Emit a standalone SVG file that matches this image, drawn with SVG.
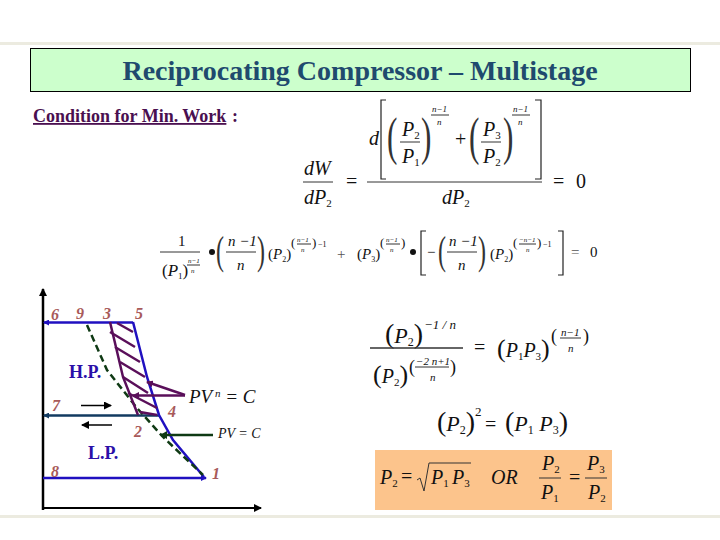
<svg xmlns="http://www.w3.org/2000/svg" width="720" height="540" viewBox="0 0 720 540">
<defs>
<style>
text{font-family:"Liberation Serif","Times New Roman",serif;fill:#111}
.i{font-style:italic}
.n{font-style:italic;font-weight:bold;font-size:16px;fill:#a85a5a}
.lb{font-weight:bold;font-size:18px;fill:#2a10a8}
.fr{stroke:#333;stroke-width:1;fill:none}
.br{stroke:#222;stroke-width:1.2;fill:none}
.m{font-size:20px}
.m2{font-size:15px}
.l{fill:none;stroke-linecap:butt}
.t7{font-size:7px;font-style:italic}
.t9{font-size:9px;font-style:italic}
.t11{font-size:11px;font-style:italic}
.p{fill:#333}
</style>
<marker id="ab" markerWidth="6" markerHeight="6" refX="5" refY="3" orient="auto-start-reverse" markerUnits="userSpaceOnUse"><path d="M0 0L6 3L0 6Z" fill="#2010c0"/></marker>
<marker id="ak" markerWidth="8" markerHeight="8" refX="7" refY="4" orient="auto" markerUnits="userSpaceOnUse"><path d="M0 0L8 4L0 8Z" fill="#000"/></marker>
<marker id="an" markerWidth="6" markerHeight="6" refX="5" refY="3" orient="auto" markerUnits="userSpaceOnUse"><path d="M0 0L6 3L0 6Z" fill="#123a60"/></marker>
<marker id="ap" markerWidth="7" markerHeight="7" refX="6" refY="3.5" orient="auto" markerUnits="userSpaceOnUse"><path d="M0 0L7 3.500L0 7Z" fill="#5a0f5a"/></marker>
<marker id="ag" markerWidth="7" markerHeight="8" refX="6" refY="4" orient="auto" markerUnits="userSpaceOnUse"><path d="M0 0L7 4L0 8Z" fill="#0f3a14"/></marker>
</defs>
<rect width="720" height="540" fill="#fff"/>
<rect x="0" y="42" width="720" height="3" fill="#ecebe0"/>
<rect x="0" y="515" width="720" height="3" fill="#ecebe0"/>
<g id="title">
<rect x="30.500" y="48.500" width="660" height="43" fill="#ccffcc" stroke="#000" stroke-width="1"/>
<text x="360" y="80" text-anchor="middle" font-size="28" font-weight="bold" style="fill:#1f4a6e">Reciprocating Compressor – Multistage</text>
</g>
<g id="condition">
<text x="33" y="122" font-size="18" font-weight="bold" text-decoration="underline" style="fill:#4a0f50">Condition for Min. Work</text>
<text x="232" y="122" font-size="18" font-weight="bold" style="fill:#4a0f50">:</text>
</g>
<g id="eq1">
<text class="m" x="304" y="175"><tspan class="i">dW</tspan></text><line class="fr" x1="303" y1="182" x2="333" y2="182"/>
<text class="m" x="304" y="204"><tspan class="i">dP</tspan><tspan font-size="11" dy="3">2</tspan></text>
<text class="m" x="346" y="188">=</text>
<line class="fr" x1="367" y1="182" x2="542" y2="182"/>
<text class="i m" x="369" y="145">d</text>
<path class="br" d="M386 179H381V100H386M535 100H541V179H535"/>
<text class="p" transform="translate(387 154) scale(.6 1)" font-size="52">(</text>
<text class="m" x="402" y="136"><tspan class="i">P</tspan><tspan font-size="11" dy="3">2</tspan></text>
<line class="fr" x1="400" y1="142" x2="420" y2="142"/>
<text class="m" x="402" y="163"><tspan class="i">P</tspan><tspan font-size="11" dy="3">1</tspan></text>
<text class="p" transform="translate(421 154) scale(.6 1)" font-size="52">)</text>
<text class="t9" x="432" y="112">n−1</text><line class="fr" x1="431" y1="115" x2="449" y2="115"/><text class="t9" x="437" y="125">n</text>
<text class="m" x="455" y="146">+</text>
<text class="p" transform="translate(469 154) scale(.6 1)" font-size="52">(</text>
<text class="m" x="483" y="136"><tspan class="i">P</tspan><tspan font-size="11" dy="3">3</tspan></text>
<line class="fr" x1="481" y1="142" x2="501" y2="142"/>
<text class="m" x="483" y="163"><tspan class="i">P</tspan><tspan font-size="11" dy="3">2</tspan></text>
<text class="p" transform="translate(503 154) scale(.6 1)" font-size="52">)</text>
<text class="t9" x="513" y="112">n−1</text><line class="fr" x1="512" y1="115" x2="530" y2="115"/><text class="t9" x="518" y="125">n</text>
<text class="m" x="442" y="204"><tspan class="i">dP</tspan><tspan font-size="11" dy="3">2</tspan></text>
<text class="m" x="553" y="188">=</text><text class="m" x="576" y="188">0</text>
</g>
<g id="eq2">
<text class="m2" x="178" y="246">1</text><line class="fr" x1="160" y1="252" x2="200" y2="252"/>
<text x="162" y="276" font-size="17">(<tspan class="i">P</tspan><tspan font-size="9" dy="3">1</tspan><tspan dy="-3">)</tspan></text>
<text class="t7" x="188" y="263">n−1</text><line class="fr" x1="187" y1="265" x2="200" y2="265"/><text class="t7" x="191" y="273">n</text>
<circle cx="212" cy="252" r="3" fill="#111"/>
<text class="p" transform="translate(216 264) scale(.6 1)" font-size="40">(</text>
<text class="i m2" x="228" y="246">n −1</text><line class="fr" x1="226" y1="252" x2="256" y2="252"/><text class="i m2" x="237" y="270">n</text>
<text class="p" transform="translate(257 264) scale(.6 1)" font-size="40">)</text>
<text x="268" y="259" font-size="15">(<tspan class="i">P</tspan><tspan font-size="8" dy="3">2</tspan><tspan dy="-3">)</tspan></text>
<text x="291" y="247" font-size="13">(</text><text class="t7" x="297" y="242">n−1</text><line class="fr" x1="297" y1="244" x2="311" y2="244"/><text class="t7" x="301" y="252">n</text><text x="312" y="247" font-size="13">)</text><text x="318" y="247" font-size="8">−1</text>
<text class="m2" x="337" y="259" style="fill:#555">+</text>
<text x="357" y="259" font-size="15">(<tspan class="i">P</tspan><tspan font-size="8" dy="3">3</tspan><tspan dy="-3">)</tspan></text>
<text x="380" y="247" font-size="13">(</text><text class="t7" x="386" y="242">n−1</text><line class="fr" x1="386" y1="244" x2="400" y2="244"/><text class="t7" x="390" y="252">n</text><text x="401" y="247" font-size="13">)</text>
<circle cx="413" cy="252" r="3" fill="#111"/>
<path class="br" d="M426 231H421V275H426M558 231H563V275H558"/>
<text class="m2" x="427" y="257">−</text>
<text class="p" transform="translate(438 264) scale(.6 1)" font-size="40">(</text>
<text class="i m2" x="449" y="246">n −1</text><line class="fr" x1="447" y1="252" x2="477" y2="252"/><text class="i m2" x="458" y="270">n</text>
<text class="p" transform="translate(478 264) scale(.6 1)" font-size="40">)</text>
<text x="490" y="259" font-size="15">(<tspan class="i">P</tspan><tspan font-size="8" dy="3">2</tspan><tspan dy="-3">)</tspan></text>
<text x="513" y="247" font-size="13">(</text><text class="t7" x="519" y="242">−n−1</text><line class="fr" x1="519" y1="244" x2="536" y2="244"/><text class="t7" x="526" y="252">n</text><text x="537" y="247" font-size="13">)</text><text x="543" y="247" font-size="8">−1</text>
<text class="m2" x="571" y="257" style="fill:#555">=</text><text class="m2" x="590" y="257">0</text>
</g>
<g id="connectors">
<line class="l" x1="43" y1="510" x2="43" y2="289" stroke="#000" stroke-width="2.500" marker-end="url(#ak)"/>
<line class="l" x1="43" y1="508" x2="261" y2="508" stroke="#000" stroke-width="2" marker-end="url(#ak)"/>
<line class="l" x1="133" y1="322.500" x2="44" y2="322.500" stroke="#2010c0" stroke-width="2.500" marker-end="url(#ab)"/>
<line class="l" x1="160" y1="415.500" x2="44" y2="415.500" stroke="#123a60" stroke-width="2.500" marker-end="url(#an)"/>
<line class="l" x1="43" y1="478" x2="206" y2="478" stroke="#2010c0" stroke-width="2.500" marker-end="url(#ab)"/>
<path class="l" d="M133 322L147 377L159 415L173 440L204 477" stroke="#2010c0" stroke-width="2.500"/>
<path class="l" d="M87 325L107 370L137 408L163 437L203 475" stroke="#0f3a14" stroke-width="2.500" stroke-dasharray="7 4"/>
<path class="l" d="M110 322L115 343L123 377L138 415" stroke="#5a0f5a" stroke-width="2.500"/>
<path class="l" d="M117 323L133 332M110 332L135 347M115 347L140 362M120 362L145 377M123 377L148 393M128 393L157 408M140 412L157 415" stroke="#5a0f5a" stroke-width="2.500"/>
<path class="l" d="M185 395L147 382" stroke="#5a0f5a" stroke-width="2.500" marker-end="url(#ap)"/>
<path class="l" d="M185 395.500L133 395.500" stroke="#5a0f5a" stroke-width="2.500" marker-end="url(#ap)"/>
<line class="l" x1="213" y1="435" x2="161" y2="435" stroke="#0f3a14" stroke-width="2.500" marker-end="url(#ag)"/>
<line class="l" x1="81" y1="405.500" x2="111" y2="405.500" stroke="#000" stroke-width="1.500" marker-end="url(#ak)"/>
<line class="l" x1="112" y1="425" x2="82" y2="425" stroke="#000" stroke-width="1.500" marker-end="url(#ak)"/>
</g>
<g id="n6"><text class="n" x="51" y="320" style="fill:#a85a5a">6</text></g>
<g id="n9"><text class="n" x="76" y="319" style="fill:#a85a5a">9</text></g>
<g id="n3"><text class="n" x="103" y="319" style="fill:#a85a5a">3</text></g>
<g id="n5"><text class="n" x="135" y="319" style="fill:#a85a5a">5</text></g>
<g id="n7"><text class="n" x="52" y="411" style="fill:#a85a5a">7</text></g>
<g id="n4"><text class="n" x="168" y="417" style="fill:#a85a5a">4</text></g>
<g id="n2"><text class="n" x="134" y="437" style="fill:#a85a5a">2</text></g>
<g id="n8"><text class="n" x="51" y="477" style="fill:#a85a5a">8</text></g>
<g id="n1"><text class="n" x="212" y="479" style="fill:#a85a5a">1</text></g>
<g id="hp"><text class="lb" x="69" y="378" style="fill:#2a10a8">H.P.</text></g>
<g id="lp"><text class="lb" x="88" y="459" style="fill:#2a10a8">L.P.</text></g>
<g id="pvn"><text class="i" x="189" y="403" font-size="19">PV<tspan font-size="11" dy="-6"> n</tspan><tspan dy="6"> = C</tspan></text></g>
<g id="pv"><text class="i" x="218" y="438" font-size="14">PV = C</text></g>
<g id="eq3">
<text x="385" y="343" font-size="28">(<tspan class="i" font-size="22">P</tspan><tspan font-size="12" dy="3">2</tspan><tspan dy="-3">)</tspan></text>
<text class="i" x="424" y="329" font-size="13">−1 / n</text>
<line class="fr" x1="370" y1="348" x2="463" y2="348" style="stroke-width:1.500"/>
<text x="373" y="383" font-size="26">(<tspan class="i" font-size="20">P</tspan><tspan font-size="11" dy="3">2</tspan><tspan dy="-3">)</tspan></text>
<text x="409" y="373" font-size="18">(</text><text class="t11" x="416" y="365">−2 n+1</text><line class="fr" x1="415" y1="367" x2="449" y2="367"/><text class="t11" x="430" y="381">n</text><text x="450" y="373" font-size="18">)</text>
<text class="m" x="474" y="354">=</text>
<text x="497" y="357" font-size="26">(<tspan class="i" font-size="20">P</tspan><tspan font-size="11" dy="3">1</tspan><tspan class="i" font-size="20" dy="-3">P</tspan><tspan font-size="11" dy="3">3</tspan><tspan dy="-3">)</tspan></text>
<text x="551" y="342" font-size="18">(</text><text class="t11" x="561" y="336">n−1</text><line class="fr" x1="560" y1="338" x2="581" y2="338"/><text class="t11" x="568" y="352">n</text><text x="583" y="342" font-size="18">)</text>
</g>
<g id="eq4">
<text x="437" y="431" font-size="28">(<tspan class="i" font-size="22">P</tspan><tspan font-size="12" dy="3">2</tspan><tspan dy="-3">)</tspan></text>
<text x="475" y="416" font-size="13">2</text>
<text class="m" x="485" y="431">=</text>
<text x="505" y="431" font-size="28">(<tspan class="i" font-size="22">P</tspan><tspan font-size="12" dy="3">1</tspan><tspan class="i" font-size="22" dy="-3"> P</tspan><tspan font-size="12" dy="3">3</tspan><tspan dy="-3">)</tspan></text>
</g>
<g id="result">
<rect x="375" y="450" width="237" height="60" fill="#fcc48c"/>
<text x="380" y="484" font-size="20"><tspan class="i">P</tspan><tspan font-size="11" dy="3">2</tspan></text>
<text class="m" x="401" y="483">=</text>
<path class="fr" d="M417 480L420 478L424 491L429 463H471"/>
<text x="431" y="484" font-size="20"><tspan class="i">P</tspan><tspan font-size="11" dy="3">1</tspan></text><text x="452" y="484" font-size="20"><tspan class="i">P</tspan><tspan font-size="11" dy="3">3</tspan></text>
<text class="i" x="491" y="484" font-size="20">OR</text>
<text x="542" y="470" font-size="20"><tspan class="i">P</tspan><tspan font-size="11" dy="3">2</tspan></text>
<line class="fr" x1="539" y1="478" x2="561" y2="478"/>
<text x="541" y="499" font-size="20"><tspan class="i">P</tspan><tspan font-size="11" dy="3">1</tspan></text>
<text class="m" x="569" y="484">=</text>
<text x="587" y="470" font-size="20"><tspan class="i">P</tspan><tspan font-size="11" dy="3">3</tspan></text>
<line class="fr" x1="585" y1="478" x2="607" y2="478"/>
<text x="588" y="499" font-size="20"><tspan class="i">P</tspan><tspan font-size="11" dy="3">2</tspan></text>
</g>
</svg>
